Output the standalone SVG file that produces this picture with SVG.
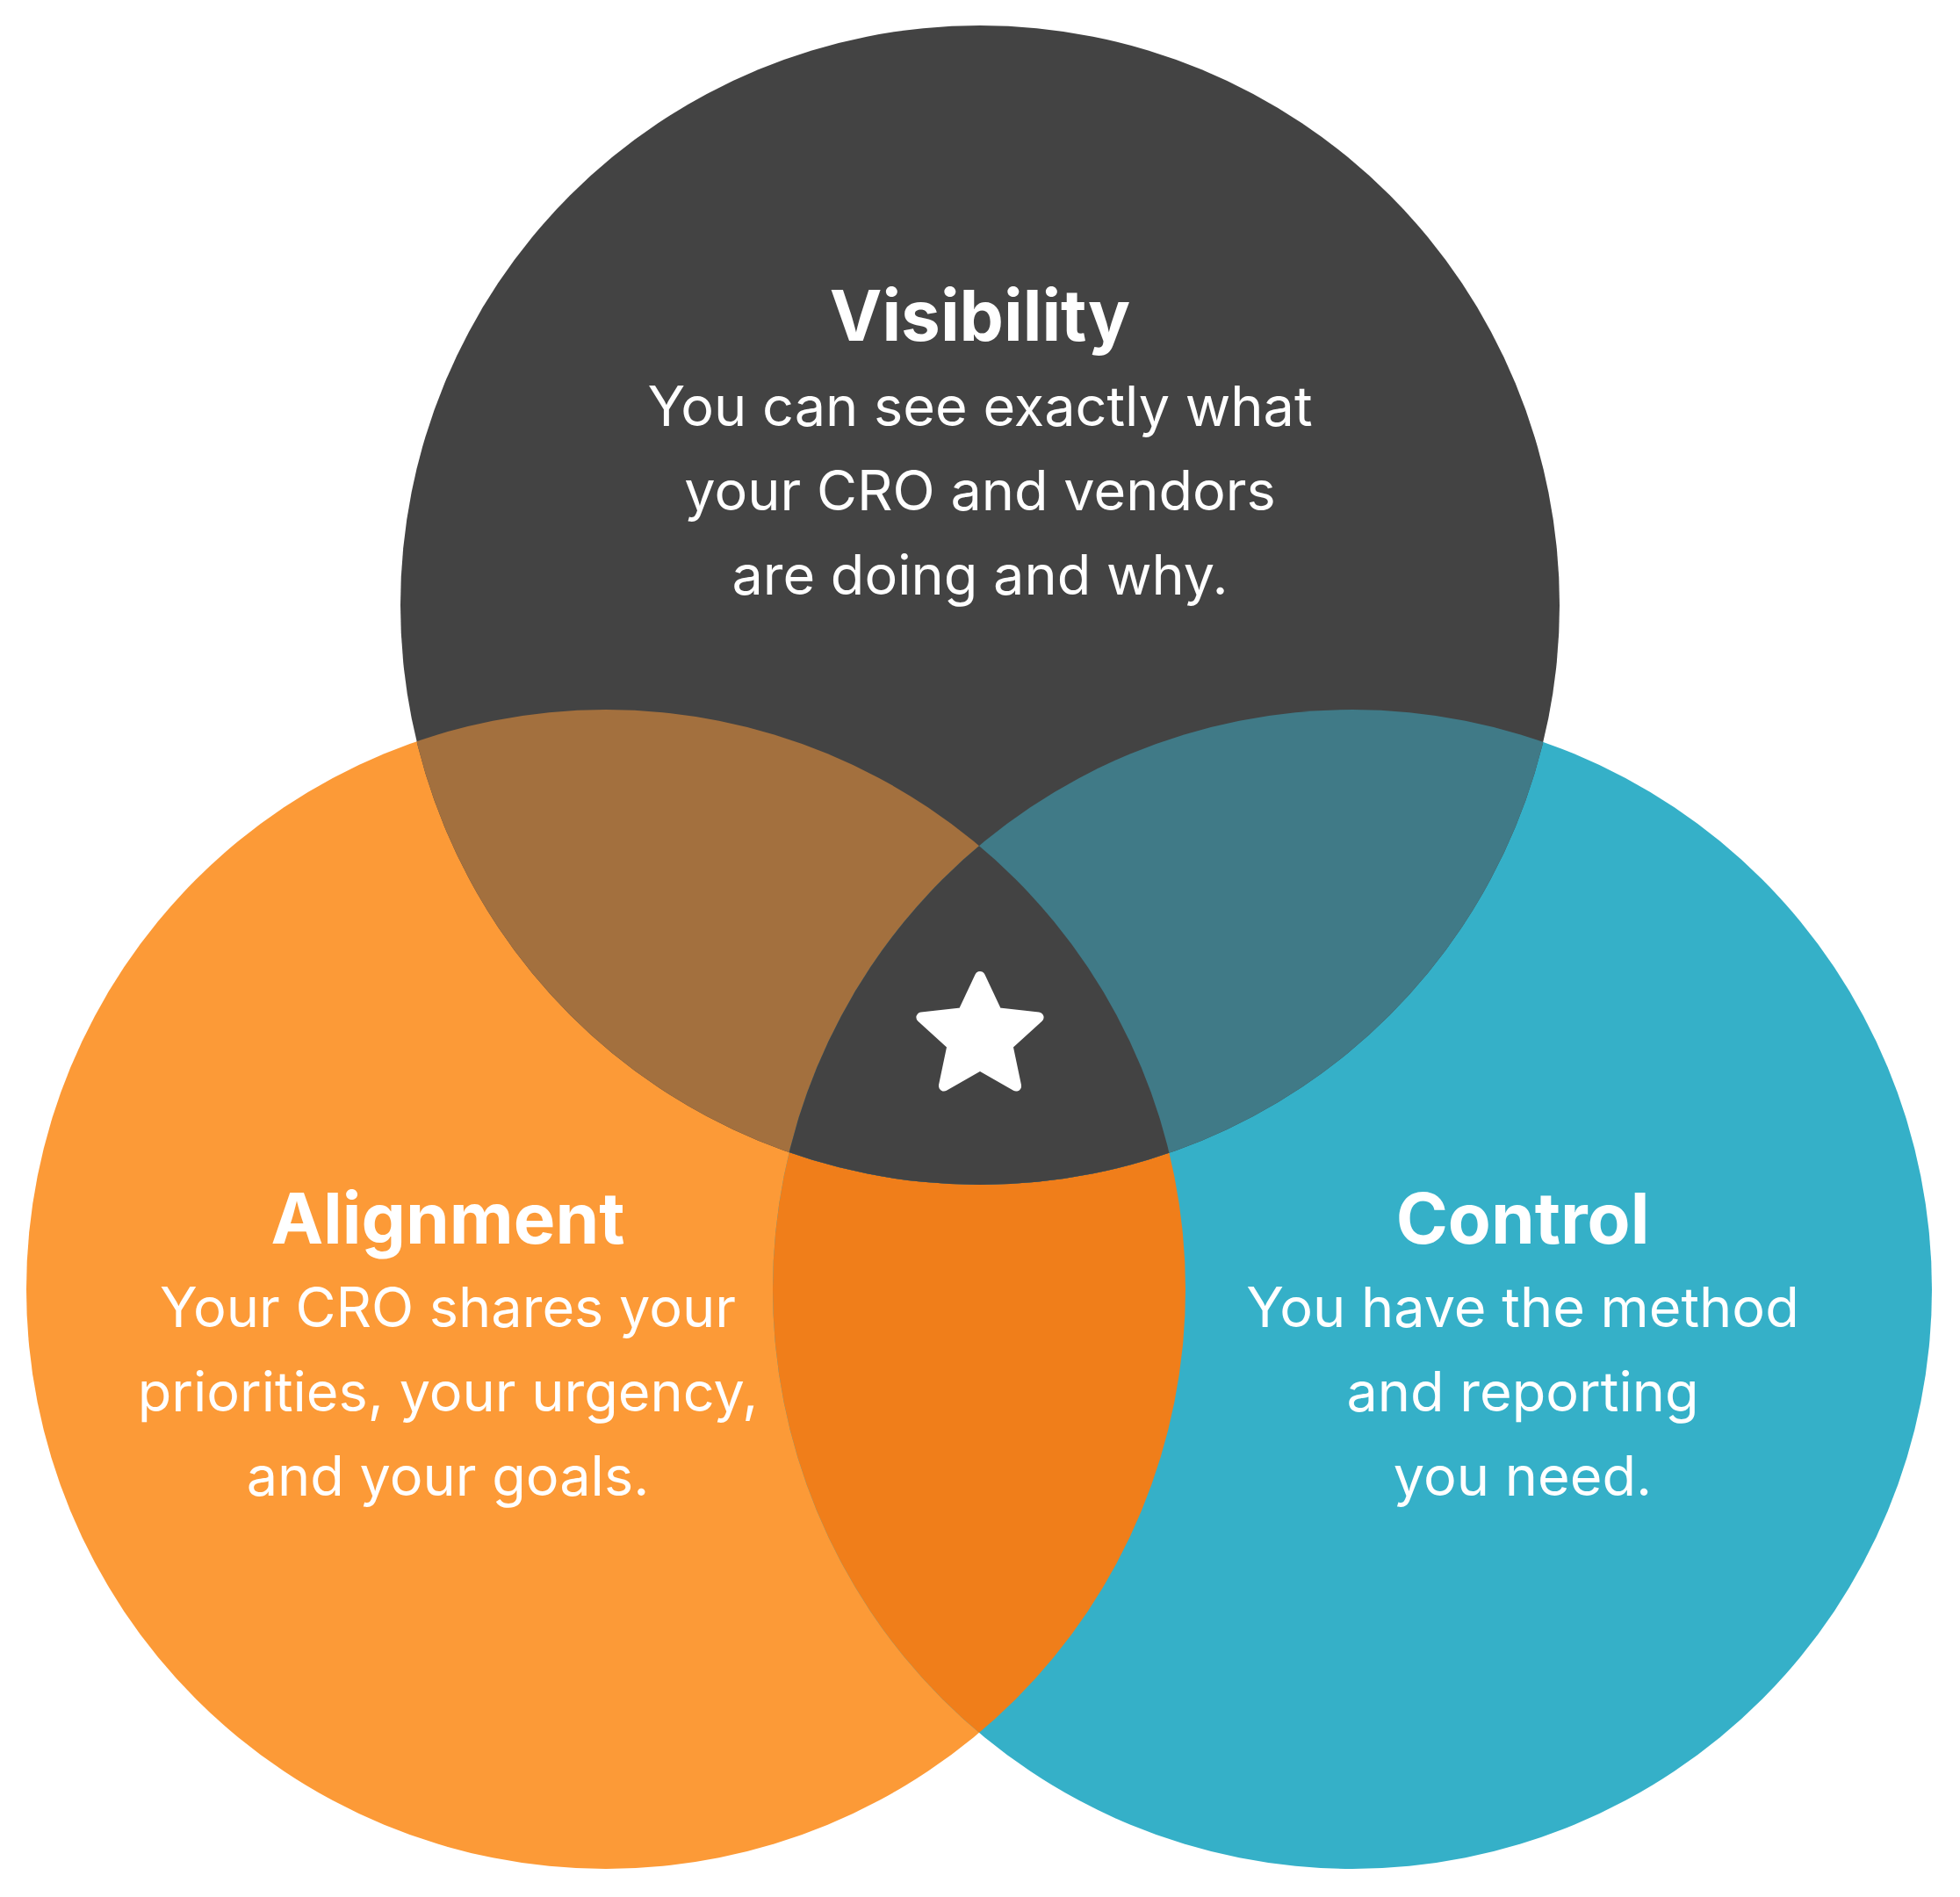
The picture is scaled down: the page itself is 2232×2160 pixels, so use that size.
<svg xmlns="http://www.w3.org/2000/svg" width="2232" height="2160" viewBox="0 0 2232 2160">
<style>
.t{font-family:Inter,"Noto Sans",sans-serif;font-weight:700;font-size:80px;fill:#fff;text-anchor:middle}
.b{font-family:Inter,"Noto Sans",sans-serif;font-size:63px;fill:#fff;text-anchor:middle}
</style>
<defs>
<clipPath id="cA"><circle cx="690" cy="1468" r="660"/></clipPath>
<clipPath id="cC"><circle cx="1540" cy="1468" r="660"/></clipPath>
<clipPath id="cV"><circle cx="1116" cy="689" r="660"/></clipPath>
</defs>
<rect width="2232" height="2160" fill="#fff"/>
<g id="alignment">
<circle cx="690" cy="1468" r="660" fill="#FC9A37"/>
</g>
<g id="control">
<circle cx="1540" cy="1468" r="660" fill="#35B0C8"/>
<circle cx="1540" cy="1468" r="660" fill="#F07E1A" clip-path="url(#cA)"/>
</g>
<g id="visibility">
<circle cx="1116" cy="689" r="660" fill="#434343"/>
<g clip-path="url(#cV)">
<circle cx="690" cy="1468" r="660" fill="#A3703E"/>
<circle cx="1540" cy="1468" r="660" fill="#407A87"/>
<g clip-path="url(#cA)"><circle cx="1540" cy="1468" r="660" fill="#434343"/></g>
</g>
</g>
<g id="labels">
<text class="t" x="1116" y="388">Visibility</text>
<text class="b" x="1116" y="485">You can see exactly what</text>
<text class="b" x="1116" y="581">your CRO and vendors</text>
<text class="b" x="1116" y="677">are doing and why.</text>
<text class="t" x="510" y="1416">Alignment</text>
<text class="b" x="510" y="1511">Your CRO shares your</text>
<text class="b" x="510" y="1607">priorities, your urgency,</text>
<text class="b" x="510" y="1703">and your goals.</text>
<text class="t" x="1734" y="1416">Control</text>
<text class="b" x="1734" y="1511">You have the method</text>
<text class="b" x="1734" y="1607">and reporting</text>
<text class="b" x="1734" y="1703">you need.</text>
</g>
<g id="star">
<polygon points="1116,1112 1135.4,1153.3 1182.6,1158.4 1147.4,1190.2 1157.1,1236.6 1116,1213 1074.9,1236.6 1084.6,1190.2 1049.4,1158.4 1096.6,1153.3" fill="#fff" stroke="#fff" stroke-width="12" stroke-linejoin="round"/>
</g>
</svg>
